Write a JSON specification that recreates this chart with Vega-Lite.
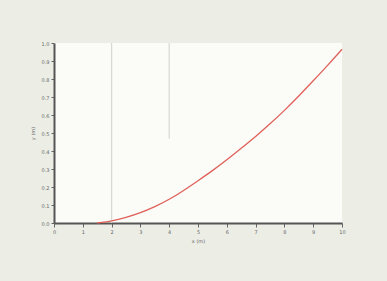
{
  "$schema": "https://vega.github.io/schema/vega-lite/v6.json",
  "width": 288,
  "height": 180,
  "autosize": "none",
  "padding": {"left": 54, "top": 43, "right": 45, "bottom": 58},
  "background": "#eceee6",
  "config": {
    "view": {"fill": "#fbfcf7", "stroke": null},
    "axis": {"labelFont": "DejaVu Sans", "labelFontSize": 5, "labelColor": "#666666", "labelOverlap": false, "labelFlush": false, "titleFont": "DejaVu Sans", "titleFontSize": 5, "titleColor": "#666666", "titleFontWeight": "normal", "domainColor": "#555555", "domainWidth": 2, "tickColor": "#666666", "grid": false}
  },
  "datasets": {
    "curve": [
      {"x": 1.5, "y": 0.0},
      {"x": 2.0, "y": 0.01},
      {"x": 2.5, "y": 0.03},
      {"x": 3.0, "y": 0.056},
      {"x": 3.5, "y": 0.09},
      {"x": 4.0, "y": 0.13},
      {"x": 4.5, "y": 0.18},
      {"x": 5.0, "y": 0.235},
      {"x": 5.5, "y": 0.29},
      {"x": 6.0, "y": 0.35},
      {"x": 6.5, "y": 0.415},
      {"x": 7.0, "y": 0.48},
      {"x": 7.5, "y": 0.55},
      {"x": 8.0, "y": 0.625},
      {"x": 8.5, "y": 0.705},
      {"x": 9.0, "y": 0.79},
      {"x": 9.5, "y": 0.875},
      {"x": 10.0, "y": 0.965}
    ],
    "marks": [
      {"x": 2.0, "y": 0.0, "y2": 1.0},
      {"x": 4.0, "y": 0.47, "y2": 1.0}
    ]
  },
  "encoding": {
    "x": {"field": "x", "type": "quantitative", "scale": {"domain": [0, 10], "nice": false}, "axis": {"title": "x (m)", "values": [0,1,2,3,4,5,6,7,8,9,10], "labelOverlap": false, "tickSize": 4, "labelPadding": 2, "titlePadding": 4}},
    "y": {"field": "y", "type": "quantitative", "scale": {"domain": [0, 1], "nice": false}, "axis": {"title": "y (m)", "values": [0,0.1,0.2,0.3,0.4,0.5,0.6,0.7,0.8,0.9,1.0], "labelOverlap": false, "format": ".1f", "tickSize": 3, "labelPadding": 2, "titlePadding": 6}}
  },
  "layer": [
    {
      "data": {"name": "marks"},
      "mark": {"type": "rule", "color": "#d6d8d4", "strokeWidth": 1.2},
      "encoding": {
        "y2": {"field": "y2"}
      }
    },
    {
      "data": {"name": "curve"},
      "mark": {"type": "line", "color": "#e0605a", "strokeWidth": 1.3, "interpolate": "basis"},
      "encoding": {}
    }
  ]
}
